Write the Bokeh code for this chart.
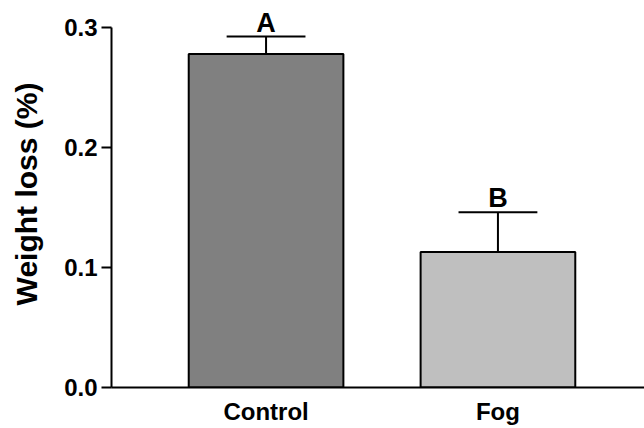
from bokeh.plotting import figure
from bokeh.models import Range1d, FixedTicker, PrintfTickFormatter, ColumnDataSource
from bokeh.core.properties import value
from bokeh.embed import file_html
from bokeh.resources import INLINE

categories = ["Control", "Fog"]
weight_loss = [0.278, 0.113]
errors = [0.0145, 0.033]
letters = ["A", "B"]
colors = ["#808080", "#bfbfbf"]
y_ticks = [0.0, 0.1, 0.2, 0.3]

xs = [i + 1 for i in range(len(categories))]
tops = [v + e for v, e in zip(weight_loss, errors)]
cap_half = 0.17
src = ColumnDataSource(dict(
    x=xs, v=weight_loss, top=tops, c=colors, lab=letters,
    cl=[x - cap_half for x in xs], cr=[x + cap_half for x in xs],
))

p = figure(width=644, height=428, output_backend="svg", toolbar_location=None,
           x_range=Range1d(0.3335, 2.632), y_range=Range1d(0, 0.3225),
           min_border_left=111, min_border_right=0, min_border_top=0,
           min_border_bottom=41)
p.outline_line_color = None
p.xgrid.visible = False
p.ygrid.visible = False
p.background_fill_color = "white"
p.border_fill_color = "white"

p.vbar(x="x", top="v", bottom=0, width=0.667, source=src, fill_color="c",
       line_color="black", line_width=2)
p.segment(x0="x", y0="v", x1="x", y1="top", source=src, line_color="black", line_width=2)
p.segment(x0="cl", y0="top", x1="cr", y1="top", source=src, line_color="black", line_width=2)
p.text(x="x", y="top", text="lab", source=src, text_align="center",
       text_baseline="bottom", y_offset=1, text_font=value("Liberation Sans"),
       text_font_style="bold", text_font_size="27px", text_color="black")

font = "Liberation Sans"
ya = p.yaxis[0]
ya.ticker = FixedTicker(ticks=y_ticks)
ya.formatter = PrintfTickFormatter(format="%.1f")
ya.bounds = (0, 0.3)
ya.axis_line_width = 2
ya.major_tick_line_width = 2
ya.major_tick_out = 10
ya.major_tick_in = 0
ya.minor_tick_out = 0
ya.minor_tick_in = 0
ya.major_label_standoff = 4
ya.major_label_text_font = font
ya.major_label_text_font_style = "bold"
ya.major_label_text_font_size = "24px"
ya.major_label_text_color = "black"
ya.axis_label = "Weight loss (%)"
ya.axis_label_text_font = font
ya.axis_label_text_font_style = "bold"
ya.axis_label_text_font_size = "30px"
ya.axis_label_text_color = "black"
ya.axis_label_standoff = 18

xa = p.xaxis[0]
xa.ticker = FixedTicker(ticks=xs)
xa.major_label_overrides = {x: c for x, c in zip(xs, categories)}
xa.axis_line_width = 2
xa.major_tick_out = 0
xa.major_tick_in = 0
xa.minor_tick_out = 0
xa.minor_tick_in = 0
xa.major_label_standoff = 10
xa.major_label_text_font = font
xa.major_label_text_font_style = "bold"
xa.major_label_text_font_size = "24px"
xa.major_label_text_color = "black"

open("out.html", "w").write(file_html(p, INLINE))
